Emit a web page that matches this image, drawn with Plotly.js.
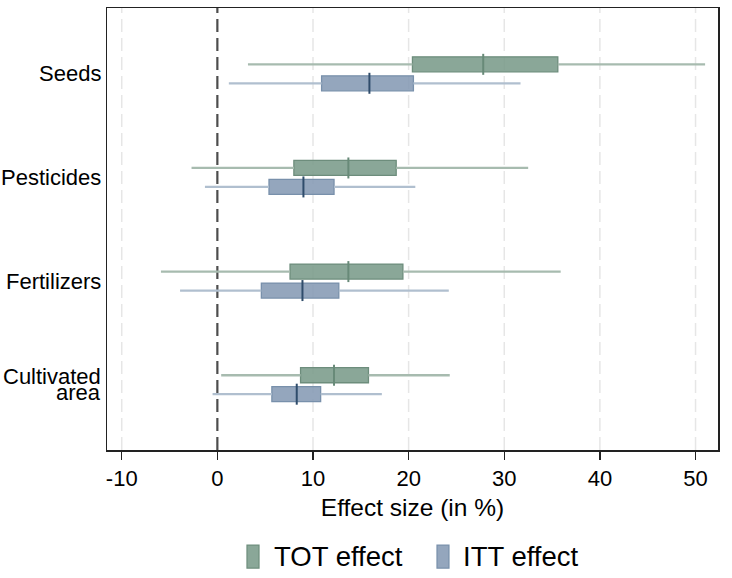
<!DOCTYPE html>
<html>
<head>
<meta charset="utf-8">
<script src="https://cdn.plot.ly/plotly-3.0.1.min.js"></script>
<style>html,body{margin:0;padding:0;background:#fff}#chart{width:732px;height:578px}</style>
</head>
<body>
<div id="chart"></div>
<script>
// Categories (top to bottom)
const categories = ['Seeds', 'Pesticides', 'Fertilizers', 'Cultivated area'];
const categoryLines = [['Seeds'], ['Pesticides'], ['Fertilizers'], ['Cultivated', 'area']];

// TOT effect: whisker low, box low, median, box high, whisker high
const totLo  = [3.2, -2.7, -5.9, 0.4];
const totQ1  = [20.4, 8.0, 7.6, 8.7];
const totMed = [27.8, 13.7, 13.7, 12.2];
const totQ3  = [35.6, 18.7, 19.4, 15.8];
const totHi  = [51.0, 32.5, 35.9, 24.3];

// ITT effect
const ittLo  = [1.2, -1.3, -3.9, -0.5];
const ittQ1  = [10.9, 5.4, 4.6, 5.7];
const ittMed = [15.9, 9.0, 8.9, 8.3];
const ittQ3  = [20.5, 12.2, 12.7, 10.8];
const ittHi  = [31.7, 20.7, 24.2, 17.2];

const xTicks = [-10, 0, 10, 20, 30, 40, 50];
const seriesNames = ['TOT effect', 'ITT effect'];

const FONT = 'Arial, "Liberation Sans", sans-serif';
const n = categories.length;
const pos = categories.map((c, i) => n - 1 - i);
const OFF = 0.0915;
const BW = 0.145;

const styles = [
  {fill: 'rgba(122,155,138,0.88)', line: '#6d8d7c', whisk: '#a7bbaf', med: '#688a78'},
  {fill: 'rgba(133,154,180,0.88)', line: '#7890ab', whisk: '#b0bfcf', med: '#2f4c6b'}
];

function whiskers(lo, q1, q3, hi, off) {
  const x = [], y = [];
  pos.forEach((p, i) => {
    x.push(lo[i], q1[i], null, q3[i], hi[i], null);
    y.push(p + off, p + off, null, p + off, p + off, null);
  });
  return {x, y};
}

function makeSeries(lo, q1, med, q3, hi, off, st, name) {
  const w = whiskers(lo, q1, q3, hi, off);
  return [
    {type: 'scatter', mode: 'lines', x: w.x, y: w.y, line: {color: st.whisk, width: 2.3},
     hoverinfo: 'skip', showlegend: false},
    {type: 'bar', orientation: 'h', name: name, base: q1, x: q3.map((v, i) => v - q1[i]),
     y: pos.map(p => p + off), width: BW,
     marker: {color: st.fill, line: {color: st.line, width: 1.3}}, showlegend: false},
    {type: 'scatter', mode: 'markers', x: med, y: pos.map(p => p + off),
     marker: {symbol: 'line-ns', size: 15, line: {color: st.med, width: 2}},
     hoverinfo: 'x', showlegend: false}
  ];
}

const data = [
  ...makeSeries(totLo, totQ1, totMed, totQ3, totHi, OFF, styles[0], seriesNames[0]),
  ...makeSeries(ittLo, ittQ1, ittMed, ittQ3, ittHi, -OFF, styles[1], seriesNames[1])
];

const annotations = [];
categoryLines.forEach((lines, i) => {
  const sp = 15.5;
  lines.forEach((t, j) => {
    annotations.push({
      xref: 'paper', yref: 'y', x: 0, y: pos[i], xanchor: 'right', yanchor: 'middle',
      xshift: -4, yshift: -((j - (lines.length - 1) / 2) * sp),
      text: t, showarrow: false, font: {family: FONT, size: 22, color: '#000'}
    });
  });
});

// gridlines (light dashed) at every tick except zero, and dark dashed zero line
const shapes = [];
xTicks.filter(v => v !== 0).forEach(v => {
  shapes.push({type: 'line', xref: 'x', yref: 'paper', x0: v, x1: v, y0: 0, y1: 1,
    line: {color: '#e6e6e6', width: 1.5, dash: '13px,6px'}, layer: 'below'});
});
shapes.push({type: 'line', xref: 'x', yref: 'paper', x0: 0, x1: 0, y0: 0, y1: 1,
  line: {color: '#4d4d4d', width: 2.2, dash: '13px,6px'}, layer: 'below'});

// custom legend
const legendItems = [
  {sx0: 0.2291, sx1: 0.2488, tx: 0.2700, st: styles[0], name: seriesNames[0]},
  {sx0: 0.5401, sx1: 0.5597, tx: 0.5795, st: styles[1], name: seriesNames[1]}
];
legendItems.forEach(it => {
  shapes.push({type: 'rect', xref: 'paper', yref: 'paper', x0: it.sx0, x1: it.sx1,
    y0: -0.2671, y1: -0.2151, fillcolor: it.st.fill, line: {color: it.st.line, width: 1.2}});
  annotations.push({xref: 'paper', yref: 'paper', x: it.tx, y: -0.2411, xanchor: 'left',
    yanchor: 'middle', text: it.name, showarrow: false,
    font: {family: FONT, size: 27.5, color: '#000'}});
});

const layout = {
  width: 732, height: 578,
  margin: {l: 107, r: 14, t: 8, b: 128, pad: 0},
  paper_bgcolor: '#fff', plot_bgcolor: '#fff',
  font: {family: FONT, color: '#000'},
  barmode: 'overlay',
  showlegend: false,
  xaxis: {
    range: [-11.54, 52.35], tickvals: xTicks, ticktext: xTicks.map(String),
    ticks: 'outside', ticklen: 8, tickwidth: 1.5, tickcolor: '#222',
    tickfont: {family: FONT, size: 22, color: '#000'},
    showgrid: false,
    zeroline: false, showline: true, mirror: true, linecolor: '#222', linewidth: 1.5,
    title: {text: 'Effect size (in %)', font: {family: FONT, size: 24.5, color: '#000'}, standoff: 9}
  },
  yaxis: {
    range: [-0.63, 3.635], showticklabels: false, ticks: '', showgrid: false,
    zeroline: false, showline: true, mirror: true, linecolor: '#222', linewidth: 1.5
  },
  shapes: shapes,
  annotations: annotations
};

Plotly.newPlot('chart', data, layout, {displayModeBar: false, staticPlot: true});
</script>
</body>
</html>
